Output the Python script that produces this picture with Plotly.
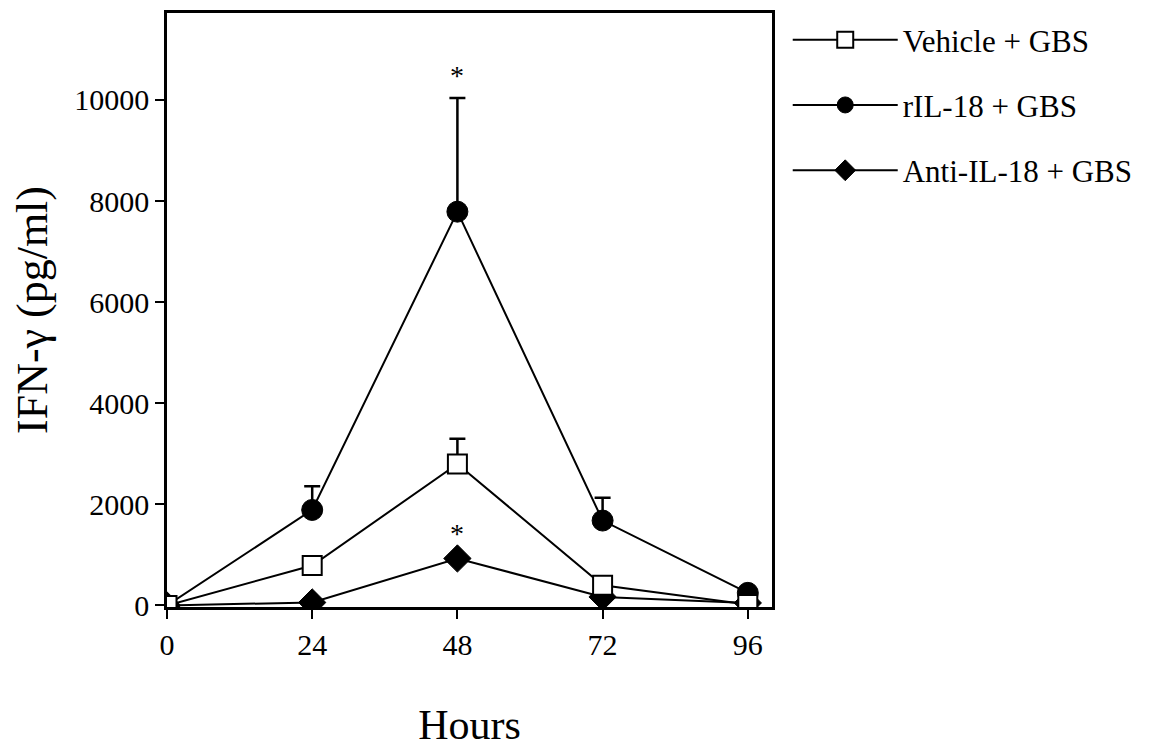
import plotly.graph_objects as go

hours = [0, 24, 48, 72, 96]
tick_labels = ["0", "24", "48", "72", "96"]
y_ticks = [0, 2000, 4000, 6000, 8000, 10000]
y_tick_labels = ["0", "2000", "4000", "6000", "8000", "10000"]

vehicle = [0, 790, 2800, 400, 20]
vehicle_err = [0, 0, 500, 0, 0]

ril18 = [0, 1890, 7790, 1680, 250]
ril18_err = [0, 470, 2250, 450, 0]

anti = [0, 60, 930, 170, 50]

star_x = [48, 48]
star_y = [10480, 1420]

FONT = "Liberation Serif, Times New Roman, serif"
BLACK = "black"

fig = go.Figure()

fig.add_trace(go.Scatter(
    x=hours, y=anti, name="Anti-IL-18 + GBS", mode="lines+markers",
    line=dict(color=BLACK, width=2),
    marker=dict(symbol="diamond", size=21, color=BLACK, line=dict(color=BLACK, width=1)),
    legendrank=3, legendgroup="c",
))
fig.add_trace(go.Scatter(
    x=hours, y=ril18, name="rIL-18 + GBS", mode="lines+markers",
    line=dict(color=BLACK, width=2),
    marker=dict(symbol="circle", size=21, color=BLACK, line=dict(color=BLACK, width=1)),
    error_y=dict(type="data", array=ril18_err, arrayminus=[0] * len(ril18_err),
                 symmetric=False, color=BLACK, thickness=2.5, width=8),
    legendrank=2, legendgroup="b",
))
fig.add_trace(go.Scatter(
    x=hours, y=vehicle, name="Vehicle + GBS", mode="lines+markers",
    line=dict(color=BLACK, width=2),
    marker=dict(symbol="square", size=19, color="white", line=dict(color=BLACK, width=2)),
    error_y=dict(type="data", array=vehicle_err, arrayminus=[0] * len(vehicle_err),
                 symmetric=False, color=BLACK, thickness=2.5, width=8),
    legendrank=1, legendgroup="a",
))

for sx, sy in zip(star_x, star_y):
    fig.add_annotation(x=sx, y=sy, text="*", showarrow=False,
                       font=dict(family=FONT, size=28, color=BLACK))

fig.update_layout(
    width=1157, height=743,
    margin=dict(l=159, r=393, t=2, b=144),
    paper_bgcolor="white", plot_bgcolor="white",
    font=dict(family=FONT, color=BLACK),
    showlegend=True,
    legend=dict(
        x=1.026, y=1.0, xanchor="left", yanchor="top",
        font=dict(family=FONT, size=31, color=BLACK),
        itemwidth=105, tracegroupgap=22,
        bgcolor="rgba(0,0,0,0)",
    ),
)

fig.update_xaxes(
    range=[0, 100], tickvals=hours, ticktext=tick_labels,
    ticks="outside", ticklen=9, tickwidth=2, tickcolor=BLACK,
    showline=True, linewidth=2.5, linecolor=BLACK, mirror=True,
    showgrid=False, zeroline=False,
    tickfont=dict(family=FONT, size=30, color=BLACK),
    title=dict(text="Hours", font=dict(family=FONT, size=42, color=BLACK), standoff=50),
)
fig.update_yaxes(
    range=[-30, 11720], tickvals=y_ticks, ticktext=y_tick_labels,
    ticks="outside", ticklen=9, tickwidth=2, tickcolor=BLACK,
    showline=True, linewidth=2.5, linecolor=BLACK, mirror=True,
    showgrid=False, zeroline=False,
    tickfont=dict(family=FONT, size=30, color=BLACK),
    title=dict(text="IFN-γ (pg/ml)", font=dict(family=FONT, size=44, color=BLACK), standoff=16),
)

fig.write_html("out.html")
